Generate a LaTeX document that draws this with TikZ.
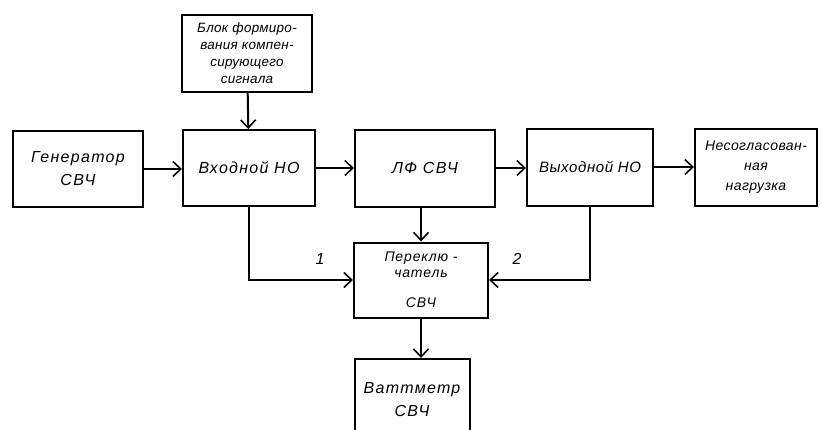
\documentclass[tikz,border=0pt]{standalone}
\usepackage{fontspec}
\setmainfont{Liberation Sans}
\usepackage{tikz}
\usetikzlibrary{positioning, arrows.meta, calc}

\tikzset{
  blok/.style={draw, line width=2pt, align=center, inner sep=2pt,
    font=\itshape\fontsize{16}{23}\selectfont\addfontfeature{LetterSpace=8}},
  pfeil/.style={line width=2pt, -{Straight Barb[length=8pt,width=15pt,line width=1.6pt]}}
}

\begin{document}
\begin{tikzpicture}[x=1pt, y=-1pt]
\useasboundingbox (0,0) rectangle (821,429);

% Blocks
\node[blok, minimum width=130pt, minimum height=77pt,
  font=\itshape\fontsize{13.5}{17}\selectfont\addfontfeature{LetterSpace=2}]
  (formir) at (247,53) {Блок формиро-\\вания компен-\\сирующего\\сигнала};
\node[blok, minimum width=130pt, minimum height=76pt] (gener) at (78,169) {Генератор\\СВЧ};
\node[blok, minimum width=132pt, minimum height=76pt] (vhod) at (249,168) {Входной НО};
\node[blok, minimum width=140pt, minimum height=77pt] (lf) at (425,168) {ЛФ СВЧ};
\node[blok, minimum width=126pt, minimum height=77pt,
  font=\itshape\fontsize{15}{23}\selectfont\addfontfeature{LetterSpace=4}]
  (vyhod) at (590,167) {Выходной НО};
\node[blok, minimum width=122pt, minimum height=77pt,
  font=\itshape\fontsize{14}{20}\selectfont\addfontfeature{LetterSpace=3}]
  (nagr) at (756,167) {Несогласован-\\ная\\нагрузка};
\node[blok, minimum width=134pt, minimum height=75pt,
  font=\itshape\fontsize{14}{16}\selectfont\addfontfeature{LetterSpace=6}]
  (perekl) at (421,280) {Переклю -\\чатель\\[14pt]СВЧ};
\node[blok, minimum width=115pt, minimum height=82pt] (watt) at (412,400) {Ваттметр\\СВЧ};

% Connections
\draw[pfeil] (formir) -- (vhod);
\draw[pfeil] (gener.east) -- (gener.east -| vhod.west);
\draw[pfeil] (vhod.east) -- (vhod.east -| lf.west);
\draw[pfeil] (lf.east) -- (lf.east -| vyhod.west);
\draw[pfeil] (vyhod.east) -- (vyhod.east -| nagr.west);
\draw[pfeil] (lf.south -| perekl.north) -- (perekl.north);
\draw[pfeil] (vhod.south) |- (perekl.west);
\draw[pfeil] (vyhod.south) |- (perekl.east);
\draw[pfeil] (perekl) -- (watt.north -| perekl.south);

% Labels
\node[font=\itshape\fontsize{16}{18}\selectfont] (eins) at (320,259) {1};
\node[font=\itshape\fontsize{16}{18}\selectfont] (zwei) at (517,259) {2};

\end{tikzpicture}
\end{document}
